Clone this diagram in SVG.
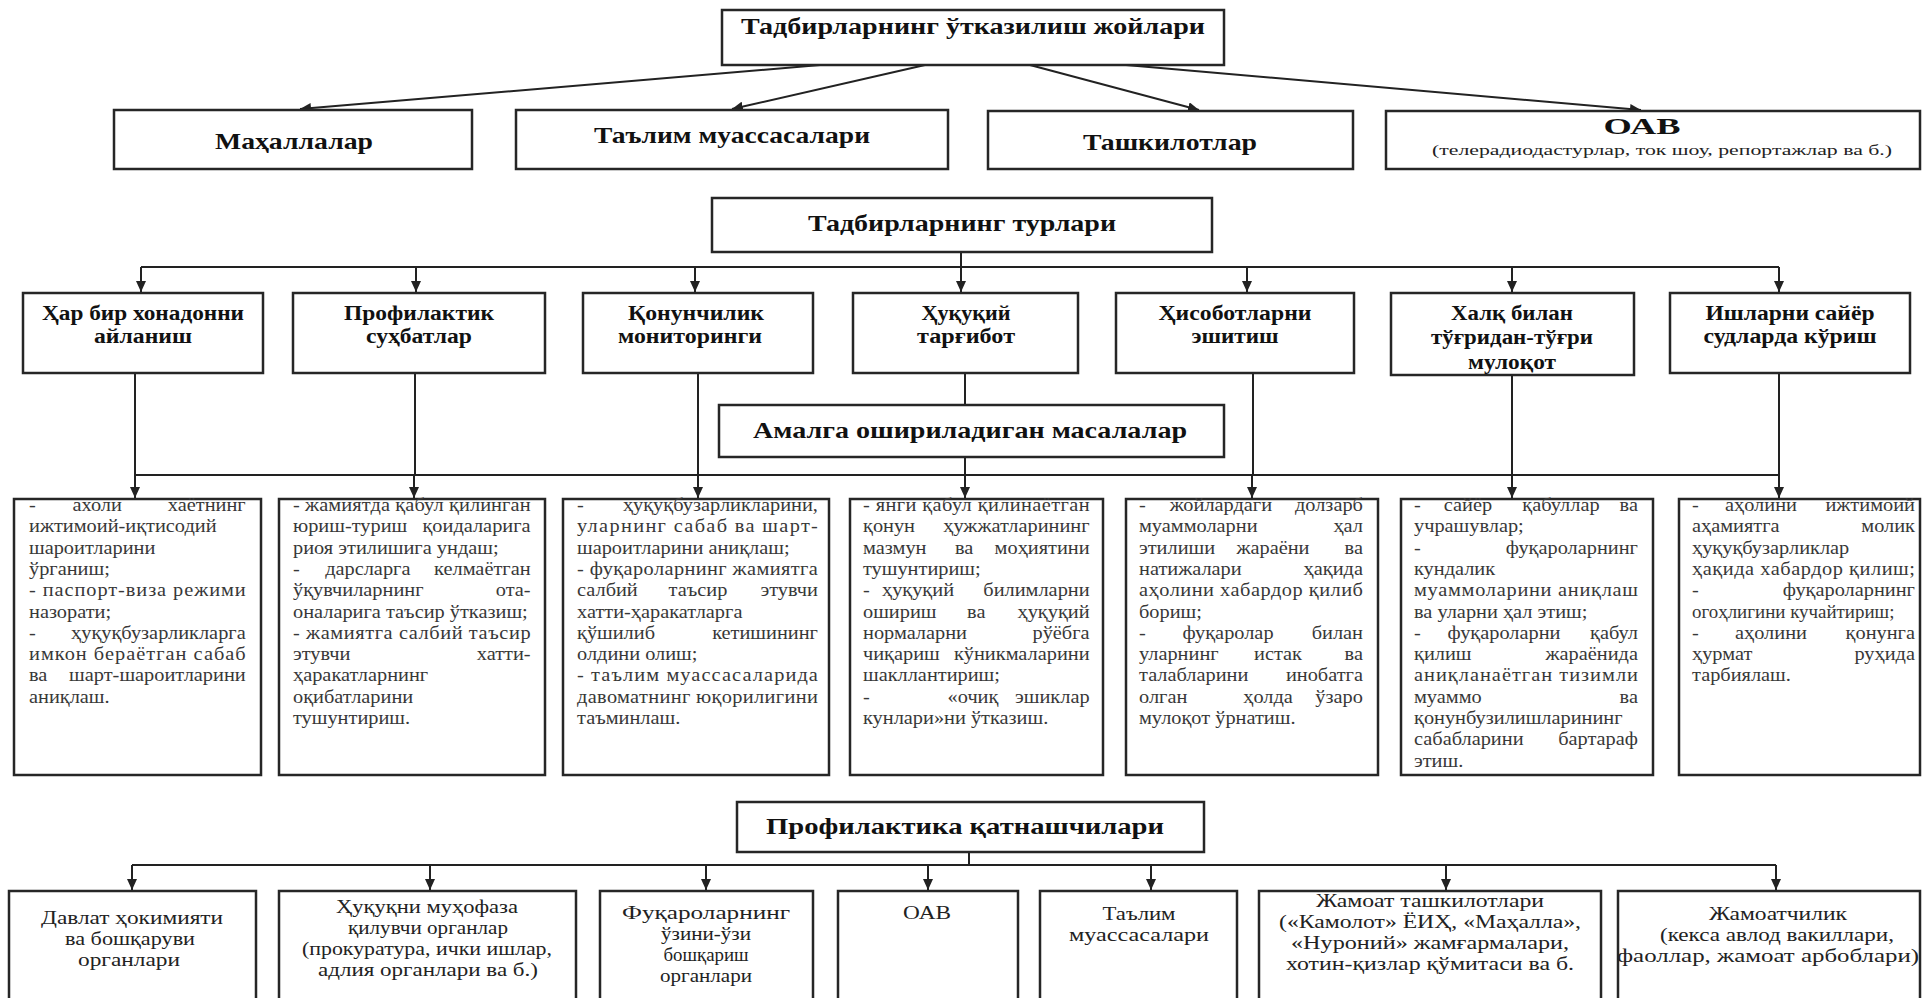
<svg xmlns="http://www.w3.org/2000/svg" width="1922" height="998" viewBox="0 0 1922 998">
<defs>
<style>
.box{fill:#fff;stroke:#262626;stroke-width:2.5}
.ln{fill:none;stroke:#222;stroke-width:2}
.arr{marker-end:url(#ah)}
.tb{font-family:"Liberation Serif","Times New Roman",serif;font-weight:bold;fill:#111;text-anchor:middle}
.t1{font-size:24px}
.t2{font-size:20px}
.tr{font-family:"Liberation Serif","Times New Roman",serif;font-size:19.5px;fill:#222;text-anchor:middle}
.dt text{font-family:"Liberation Serif","Times New Roman",serif;font-size:18.5px;fill:#383838}
.dt .e{text-anchor:end}
.dt .m{text-anchor:middle}
</style>
<marker id="ah" markerUnits="userSpaceOnUse" markerWidth="12" markerHeight="10" refX="11" refY="5" orient="auto">
<path d="M0,0 L11,5 L0,10 z" fill="#222"/>
</marker>
</defs>
<rect x="0" y="0" width="1922" height="998" fill="#fff"/>

<g id="connectors">
<line class="ln arr" x1="820" y1="65" x2="300" y2="109"/>
<line class="ln arr" x1="925" y1="65" x2="732" y2="109"/>
<line class="ln arr" x1="1030" y1="65" x2="1199" y2="110"/>
<line class="ln arr" x1="1126" y1="65" x2="1641" y2="110"/>

<line class="ln" x1="961" y1="252" x2="961" y2="267"/>
<line class="ln" x1="141" y1="267" x2="1779" y2="267"/>
<line class="ln arr" x1="141" y1="267" x2="141" y2="292"/>
<line class="ln arr" x1="416" y1="267" x2="416" y2="292"/>
<line class="ln arr" x1="695" y1="267" x2="695" y2="292"/>
<line class="ln arr" x1="961" y1="267" x2="961" y2="292"/>
<line class="ln arr" x1="1247" y1="267" x2="1247" y2="292"/>
<line class="ln arr" x1="1512" y1="267" x2="1512" y2="292"/>
<line class="ln arr" x1="1779" y1="267" x2="1779" y2="292"/>

<line class="ln" x1="135" y1="373" x2="135" y2="475"/>
<line class="ln" x1="415" y1="373" x2="415" y2="475"/>
<line class="ln" x1="698" y1="373" x2="698" y2="475"/>
<line class="ln" x1="965" y1="373" x2="965" y2="405"/>
<line class="ln" x1="965" y1="457" x2="965" y2="475"/>
<line class="ln" x1="1253" y1="373" x2="1253" y2="475"/>
<line class="ln" x1="1512" y1="375" x2="1512" y2="475"/>
<line class="ln" x1="1779" y1="373" x2="1779" y2="475"/>
<line class="ln" x1="135" y1="475" x2="1779" y2="475"/>
<line class="ln arr" x1="135" y1="475" x2="135" y2="498"/>
<line class="ln arr" x1="414" y1="475" x2="414" y2="498"/>
<line class="ln arr" x1="698" y1="475" x2="698" y2="498"/>
<line class="ln arr" x1="965" y1="475" x2="965" y2="498"/>
<line class="ln arr" x1="1252" y1="475" x2="1252" y2="498"/>
<line class="ln arr" x1="1512" y1="475" x2="1512" y2="498"/>
<line class="ln arr" x1="1779" y1="475" x2="1779" y2="498"/>

<line class="ln" x1="969" y1="852" x2="969" y2="865"/>
<line class="ln" x1="132" y1="865" x2="1776" y2="865"/>
<line class="ln arr" x1="132" y1="865" x2="132" y2="890"/>
<line class="ln arr" x1="430" y1="865" x2="430" y2="890"/>
<line class="ln arr" x1="706" y1="865" x2="706" y2="890"/>
<line class="ln arr" x1="928" y1="865" x2="928" y2="890"/>
<line class="ln arr" x1="1151" y1="865" x2="1151" y2="890"/>
<line class="ln arr" x1="1446" y1="865" x2="1446" y2="890"/>
<line class="ln arr" x1="1776" y1="865" x2="1776" y2="890"/>
</g>

<g id="n-places">
<rect class="box" x="722" y="10" width="502" height="55"/>
<text class="tb t1" x="973" y="34" textLength="464" lengthAdjust="spacingAndGlyphs">Тадбирларнинг ўтказилиш жойлари</text>
</g>
<g id="n-mahalla">
<rect class="box" x="114" y="110" width="358" height="59"/>
<text class="tb t1" x="294" y="149" textLength="158" lengthAdjust="spacingAndGlyphs">Маҳаллалар</text>
</g>
<g id="n-talim">
<rect class="box" x="516" y="110" width="432" height="59"/>
<text class="tb t1" x="732" y="143" textLength="276" lengthAdjust="spacingAndGlyphs">Таълим муассасалари</text>
</g>
<g id="n-tashkilot">
<rect class="box" x="988" y="111" width="365" height="58"/>
<text class="tb t1" x="1170" y="150" textLength="174" lengthAdjust="spacingAndGlyphs">Ташкилотлар</text>
</g>
<g id="n-oav1">
<rect class="box" x="1386" y="111" width="534" height="58"/>
<text class="tb t1" x="1642" y="134" textLength="77" lengthAdjust="spacingAndGlyphs">ОАВ</text>
<text class="tr" style="font-size:15px" x="1662" y="155" textLength="460" lengthAdjust="spacingAndGlyphs">(телерадиодастурлар, ток шоу, репортажлар ва б.)</text>
</g>

<g id="n-turlar">
<rect class="box" x="712" y="198" width="500" height="54"/>
<text class="tb t1" x="962" y="231" textLength="308" lengthAdjust="spacingAndGlyphs">Тадбирларнинг турлари</text>
</g>

<g id="n-t1">
<rect class="box" x="23" y="293" width="240" height="80"/>
<text class="tb t2" x="143" y="320" textLength="202" lengthAdjust="spacingAndGlyphs">Ҳар бир хонадонни</text>
<text class="tb t2" x="143" y="343" textLength="98" lengthAdjust="spacingAndGlyphs">айланиш</text>
</g>
<g id="n-t2">
<rect class="box" x="293" y="293" width="252" height="80"/>
<text class="tb t2" x="419" y="320" textLength="150" lengthAdjust="spacingAndGlyphs">Профилактик</text>
<text class="tb t2" x="419" y="343" textLength="106" lengthAdjust="spacingAndGlyphs">суҳбатлар</text>
</g>
<g id="n-t3">
<rect class="box" x="583" y="293" width="230" height="80"/>
<text class="tb t2" x="696" y="320" textLength="136" lengthAdjust="spacingAndGlyphs">Қонунчилик</text>
<text class="tb t2" x="690" y="343" textLength="144" lengthAdjust="spacingAndGlyphs">мониторинги</text>
</g>
<g id="n-t4">
<rect class="box" x="853" y="293" width="225" height="80"/>
<text class="tb t2" x="966" y="320" textLength="89" lengthAdjust="spacingAndGlyphs">Ҳуқуқий</text>
<text class="tb t2" x="966" y="343" textLength="98" lengthAdjust="spacingAndGlyphs">тарғибот</text>
</g>
<g id="n-t5">
<rect class="box" x="1116" y="293" width="238" height="80"/>
<text class="tb t2" x="1235" y="320" textLength="153" lengthAdjust="spacingAndGlyphs">Ҳисоботларни</text>
<text class="tb t2" x="1235" y="343" textLength="87" lengthAdjust="spacingAndGlyphs">эшитиш</text>
</g>
<g id="n-t6">
<rect class="box" x="1391" y="293" width="243" height="82"/>
<text class="tb t2" x="1512" y="320" textLength="122" lengthAdjust="spacingAndGlyphs">Халқ билан</text>
<text class="tb t2" x="1512" y="344" textLength="162" lengthAdjust="spacingAndGlyphs">тўғридан-тўғри</text>
<text class="tb t2" x="1512" y="369" textLength="88" lengthAdjust="spacingAndGlyphs">мулоқот</text>
</g>
<g id="n-t7">
<rect class="box" x="1670" y="293" width="240" height="80"/>
<text class="tb t2" x="1790" y="320" textLength="169" lengthAdjust="spacingAndGlyphs">Ишларни сайёр</text>
<text class="tb t2" x="1790" y="343" textLength="173" lengthAdjust="spacingAndGlyphs">судларда кўриш</text>
</g>

<g id="n-amalga">
<rect class="box" x="719" y="405" width="505" height="52"/>
<text class="tb t1" x="970" y="438" textLength="434" lengthAdjust="spacingAndGlyphs">Амалга ошириладиган масалалар</text>
</g>

<g id="n-d1">
<rect class="box" x="14" y="499" width="247" height="276"/>
<g class="dt" transform="translate(29 0) scale(1.1 1)">
<text x="0" y="511">-</text><text class="m" x="62" y="511">ахоли</text><text class="e" x="197" y="511">хаётнинг</text>
<text x="0" y="532">ижтимоий-иқтисодий</text>
<text x="0" y="554">шароитларини</text>
<text x="0" y="575">ўрганиш;</text>
<text x="0" y="596" textLength="197" lengthAdjust="spacing">- паспорт-виза режими</text>
<text x="0" y="618">назорати;</text>
<text x="0" y="639">-</text><text class="e" x="197" y="639">ҳуқуқбузарликларга</text>
<text x="0" y="660" textLength="197" lengthAdjust="spacing">имкон бераётган сабаб</text>
<text x="0" y="681">ва</text><text class="e" x="197" y="681">шарт-шароитларини</text>
<text x="0" y="703">аниқлаш.</text>
</g>
</g>

<g id="n-d2">
<rect class="box" x="279" y="499" width="266" height="276"/>
<g class="dt" transform="translate(293 0) scale(1.1 1)">
<text x="0" y="511" textLength="216" lengthAdjust="spacing">- жамиятда қабул қилинган</text>
<text x="0" y="532">юриш-туриш</text><text class="e" x="216" y="532">қоидаларига</text>
<text x="0" y="554">риоя этилишига ундаш;</text>
<text x="0" y="575">-</text><text class="m" x="68" y="575">дарсларга</text><text class="e" x="216" y="575">келмаётган</text>
<text x="0" y="596">ўқувчиларнинг</text><text class="e" x="216" y="596">ота-</text>
<text x="0" y="618">оналарига таъсир ўтказиш;</text>
<text x="0" y="639" textLength="216" lengthAdjust="spacing">- жамиятга салбий таъсир</text>
<text x="0" y="660">этувчи</text><text class="e" x="216" y="660">хатти-</text>
<text x="0" y="681">ҳаракатларнинг</text>
<text x="0" y="703">оқибатларини</text>
<text x="0" y="724">тушунтириш.</text>
</g>
</g>

<g id="n-d3">
<rect class="box" x="563" y="499" width="266" height="276"/>
<g class="dt" transform="translate(577 0) scale(1.1 1)">
<text x="0" y="511">-</text><text class="e" x="219" y="511">ҳуқуқбузарликларини,</text>
<text x="0" y="532" textLength="219" lengthAdjust="spacing">уларнинг сабаб ва шарт-</text>
<text x="0" y="554">шароитларини аниқлаш;</text>
<text x="0" y="575" textLength="219" lengthAdjust="spacing">- фуқароларнинг жамиятга</text>
<text x="0" y="596">салбий</text><text class="m" x="110" y="596">таъсир</text><text class="e" x="219" y="596">этувчи</text>
<text x="0" y="618">хатти-ҳаракатларга</text>
<text x="0" y="639">қўшилиб</text><text class="e" x="219" y="639">кетишининг</text>
<text x="0" y="660">олдини олиш;</text>
<text x="0" y="681" textLength="219" lengthAdjust="spacing">- таълим муассасаларида</text>
<text x="0" y="703" textLength="219" lengthAdjust="spacing">давоматнинг юқорилигини</text>
<text x="0" y="724">таъминлаш.</text>
</g>
</g>

<g id="n-d4">
<rect class="box" x="850" y="499" width="253" height="276"/>
<g class="dt" transform="translate(863 0) scale(1.1 1)">
<text x="0" y="511" textLength="206" lengthAdjust="spacing">- янги қабул қилинаётган</text>
<text x="0" y="532">қонун</text><text class="e" x="206" y="532">ҳужжатларининг</text>
<text x="0" y="554">мазмун</text><text class="m" x="92" y="554">ва</text><text class="e" x="206" y="554">моҳиятини</text>
<text x="0" y="575">тушунтириш;</text>
<text x="0" y="596">-</text><text class="m" x="50" y="596">ҳуқуқий</text><text class="e" x="206" y="596">билимларни</text>
<text x="0" y="618">ошириш</text><text class="m" x="103" y="618">ва</text><text class="e" x="206" y="618">ҳуқуқий</text>
<text x="0" y="639">нормаларни</text><text class="e" x="206" y="639">рўёбга</text>
<text x="0" y="660">чиқариш</text><text class="e" x="206" y="660">кўникмаларини</text>
<text x="0" y="681">шакллантириш;</text>
<text x="0" y="703">-</text><text class="m" x="100" y="703">«очиқ</text><text class="e" x="206" y="703">эшиклар</text>
<text x="0" y="724">кунлари»ни ўтказиш.</text>
</g>
</g>

<g id="n-d5">
<rect class="box" x="1126" y="499" width="252" height="276"/>
<g class="dt" transform="translate(1139 0) scale(1.1 1)">
<text x="0" y="511">-</text><text class="m" x="74.5" y="511">жойлардаги</text><text class="e" x="203.6" y="511">долзарб</text>
<text x="0" y="532">муаммоларни</text><text class="e" x="203.6" y="532">ҳал</text>
<text x="0" y="554">этилиши</text><text class="m" x="121.8" y="554">жараёни</text><text class="e" x="203.6" y="554">ва</text>
<text x="0" y="575">натижалари</text><text class="e" x="203.6" y="575">ҳақида</text>
<text x="0" y="596" textLength="203.6" lengthAdjust="spacing">аҳолини хабардор қилиб</text>
<text x="0" y="618">бориш;</text>
<text x="0" y="639">-</text><text class="m" x="80.9" y="639">фуқаролар</text><text class="e" x="203.6" y="639">билан</text>
<text x="0" y="660">уларнинг</text><text class="m" x="126.4" y="660">истак</text><text class="e" x="203.6" y="660">ва</text>
<text x="0" y="681">талабларини</text><text class="e" x="203.6" y="681">инобатга</text>
<text x="0" y="703">олган</text><text class="m" x="117.3" y="703">ҳолда</text><text class="e" x="203.6" y="703">ўзаро</text>
<text x="0" y="724">мулоқот ўрнатиш.</text>
</g>
</g>

<g id="n-d6">
<rect class="box" x="1401" y="499" width="252" height="276"/>
<g class="dt" transform="translate(1414 0) scale(1.1 1)">
<text x="0" y="511">-</text><text class="m" x="49" y="511">сайёр</text><text class="m" x="133.6" y="511">қабуллар</text><text class="e" x="203.6" y="511">ва</text>
<text x="0" y="532">учрашувлар;</text>
<text x="0" y="554">-</text><text class="e" x="203.6" y="554">фуқароларнинг</text>
<text x="0" y="575">кундалик</text>
<text x="0" y="596" textLength="203.6" lengthAdjust="spacing">муаммоларини аниқлаш</text>
<text x="0" y="618">ва уларни ҳал этиш;</text>
<text x="0" y="639">-</text><text class="m" x="81.8" y="639">фуқароларни</text><text class="e" x="203.6" y="639">қабул</text>
<text x="0" y="660">қилиш</text><text class="e" x="203.6" y="660">жараёнида</text>
<text x="0" y="681" textLength="203.6" lengthAdjust="spacing">аниқланаётган тизимли</text>
<text x="0" y="703">муаммо</text><text class="e" x="203.6" y="703">ва</text>
<text x="0" y="724">қонунбузилишларининг</text>
<text x="0" y="745">сабабларини</text><text class="e" x="203.6" y="745">бартараф</text>
<text x="0" y="767">этиш.</text>
</g>
</g>

<g id="n-d7">
<rect class="box" x="1679" y="499" width="241" height="276"/>
<g class="dt" transform="translate(1692 0) scale(1.1 1)">
<text x="0" y="511">-</text><text class="m" x="62.7" y="511">аҳолини</text><text class="e" x="202.7" y="511">ижтимоий</text>
<text x="0" y="532">аҳамиятга</text><text class="e" x="202.7" y="532">молик</text>
<text x="0" y="554">ҳуқуқбузарликлар</text>
<text x="0" y="575" textLength="202.7" lengthAdjust="spacing">ҳақида хабардор қилиш;</text>
<text x="0" y="596">-</text><text class="e" x="202.7" y="596">фуқароларнинг</text>
<text x="0" y="618" textLength="184" lengthAdjust="spacingAndGlyphs">огоҳлигини кучайтириш;</text>
<text x="0" y="639">-</text><text class="m" x="71.8" y="639">аҳолини</text><text class="e" x="202.7" y="639">қонунга</text>
<text x="0" y="660">ҳурмат</text><text class="e" x="202.7" y="660">руҳида</text>
<text x="0" y="681">тарбиялаш.</text>
</g>
</g>

<g id="n-profil">
<rect class="box" x="737" y="802" width="467" height="50"/>
<text class="tb t1" x="965" y="834" textLength="398" lengthAdjust="spacingAndGlyphs">Профилактика қатнашчилари</text>
</g>

<g id="n-p1">
<rect class="box" x="9" y="891" width="247" height="120"/>
<text class="tr" x="132" y="924" textLength="182" lengthAdjust="spacingAndGlyphs">Давлат ҳокимияти</text>
<text class="tr" x="130" y="945" textLength="130" lengthAdjust="spacingAndGlyphs">ва бошқаруви</text>
<text class="tr" x="129" y="966" textLength="102" lengthAdjust="spacingAndGlyphs">органлари</text>
</g>
<g id="n-p2">
<rect class="box" x="279" y="891" width="297" height="120"/>
<text class="tr" x="427" y="913" textLength="182" lengthAdjust="spacingAndGlyphs">Ҳуқуқни муҳофаза</text>
<text class="tr" x="428" y="934" textLength="160" lengthAdjust="spacingAndGlyphs">қилувчи органлар</text>
<text class="tr" x="427" y="955" textLength="250" lengthAdjust="spacingAndGlyphs">(прокуратура, ички ишлар,</text>
<text class="tr" x="428" y="976" textLength="220" lengthAdjust="spacingAndGlyphs">адлия органлари ва б.)</text>
</g>
<g id="n-p3">
<rect class="box" x="600" y="891" width="213" height="120"/>
<text class="tr" x="706" y="919" textLength="168" lengthAdjust="spacingAndGlyphs">Фуқароларнинг</text>
<text class="tr" x="706" y="940" textLength="90" lengthAdjust="spacingAndGlyphs">ўзини-ўзи</text>
<text class="tr" x="706" y="961" textLength="85" lengthAdjust="spacingAndGlyphs">бошқариш</text>
<text class="tr" x="706" y="982" textLength="92" lengthAdjust="spacingAndGlyphs">органлари</text>
</g>
<g id="n-p4">
<rect class="box" x="838" y="891" width="180" height="120"/>
<text class="tr" x="927" y="919" textLength="48" lengthAdjust="spacingAndGlyphs">ОАВ</text>
</g>
<g id="n-p5">
<rect class="box" x="1040" y="891" width="197" height="120"/>
<text class="tr" x="1139" y="920" textLength="73" lengthAdjust="spacingAndGlyphs">Таълим</text>
<text class="tr" x="1139" y="941" textLength="140" lengthAdjust="spacingAndGlyphs">муассасалари</text>
</g>
<g id="n-p6">
<rect class="box" x="1259" y="891" width="342" height="120"/>
<text class="tr" x="1430" y="907" textLength="228" lengthAdjust="spacingAndGlyphs">Жамоат ташкилотлари</text>
<text class="tr" x="1430" y="928" textLength="302" lengthAdjust="spacingAndGlyphs">(«Камолот» ЁИҲ, «Маҳалла»,</text>
<text class="tr" x="1430" y="949" textLength="278" lengthAdjust="spacingAndGlyphs">«Нуроний» жамғармалари,</text>
<text class="tr" x="1430" y="970" textLength="288" lengthAdjust="spacingAndGlyphs">хотин-қизлар қўмитаси ва б.</text>
</g>
<g id="n-p7">
<rect class="box" x="1618" y="891" width="302" height="120"/>
<text class="tr" x="1778" y="920" textLength="138" lengthAdjust="spacingAndGlyphs">Жамоатчилик</text>
<text class="tr" x="1777" y="941" textLength="234" lengthAdjust="spacingAndGlyphs">(кекса авлод вакиллари,</text>
<text class="tr" x="1768" y="962" textLength="302" lengthAdjust="spacingAndGlyphs">фаоллар, жамоат арбоблари)</text>
</g>
</svg>
